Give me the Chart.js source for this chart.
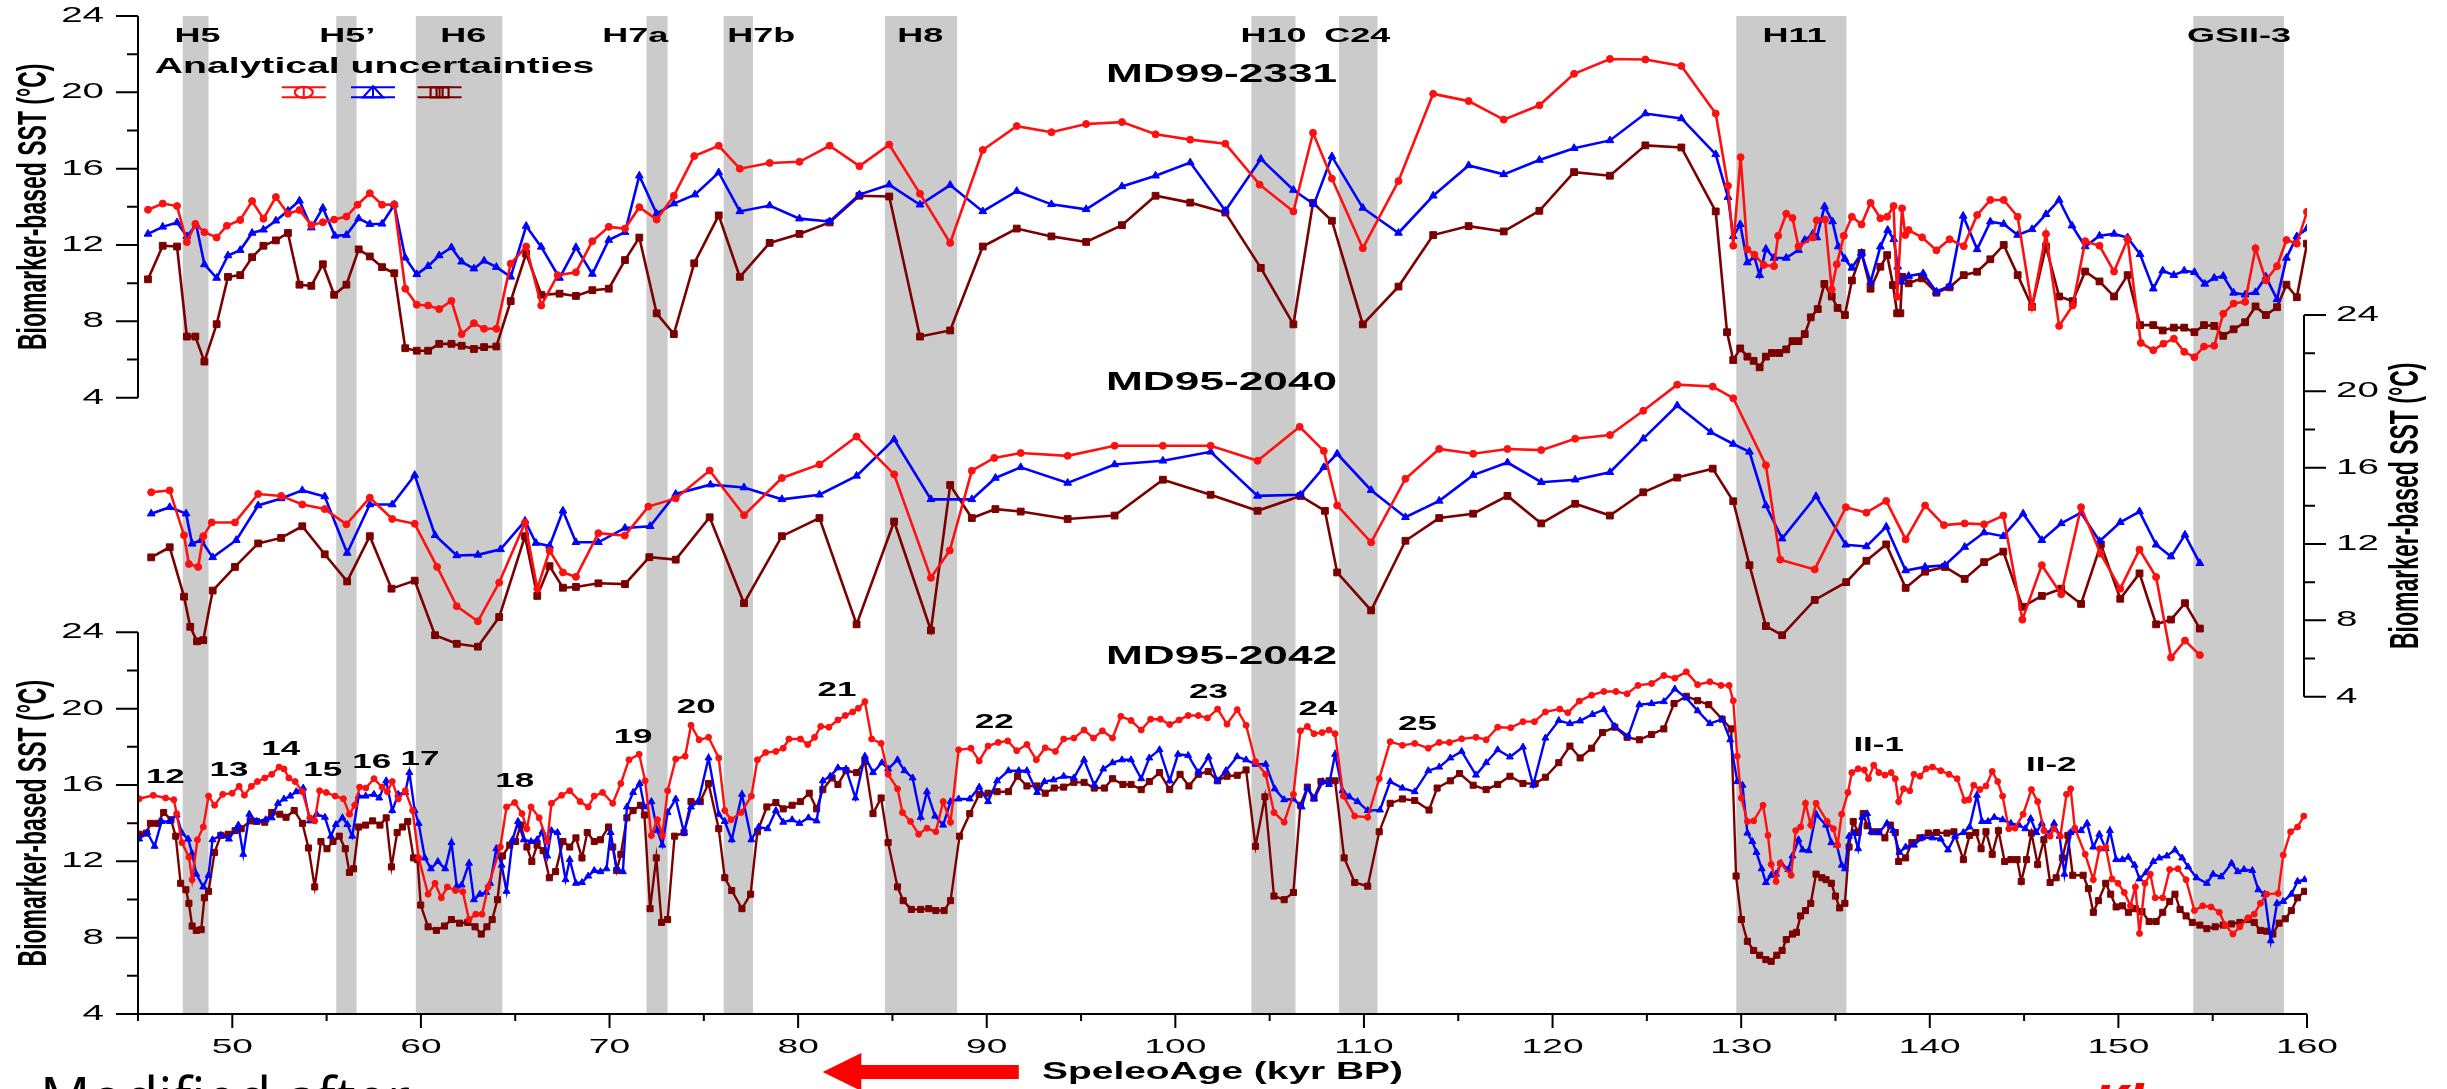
<!DOCTYPE html>
<html>
<head>
<meta charset="utf-8">
<script src="https://cdn.jsdelivr.net/npm/chart.js@4.4.1/dist/chart.umd.min.js"></script>
<style>
  html, body { margin: 0; padding: 0; background: #fff; }
  #wrap { width: 2447px; height: 1089px; }
</style>
</head>
<body>
<div id="wrap"><canvas id="sst" width="2447" height="1089"></canvas></div>
<script>
// Colours of the three SST records
const RED = '#ff1010';
const BLUE = '#0000ff';
const BROWN = '#7b0000';

// Age axis (kyr BP) and SST axes (°C)
const ageTicks = [45, 50, 55, 60, 65, 70, 75, 80, 85, 90, 95, 100, 105, 110, 115, 120, 125, 130, 135, 140, 145, 150, 155, 160];
const ageTickLabels = [50, 60, 70, 80, 90, 100, 110, 120, 130, 140, 150, 160];
const sstTicks = [4, 6, 8, 10, 12, 14, 16, 18, 20, 22, 24];
const sstTickLabels = [4, 8, 12, 16, 20, 24];

// Heinrich / cold events (shaded bands)
const eventNames = ['H5', 'H5\u2019', 'H6', 'H7a', 'H7b', 'H8', 'H10', 'C24', 'H11', 'GSII-3'];
const eventStart = [47.37, 55.51, 59.73, 71.96, 76.05, 84.60, 104.03, 108.68, 129.74, 153.97];
const eventEnd = [48.74, 56.59, 64.32, 73.08, 77.61, 88.43, 106.37, 110.72, 135.58, 158.78];
const eventLabelAge = [48.15, 56.09, 62.25, 71.37, 78.05, 86.48, 105.2, 109.65, 132.83, 156.4];

// Greenland interstadial numbers on the MD95-2042 record
const stageNames = ['12', '13', '14', '15', '16', '17', '18', '19', '20', '21', '22', '23', '24', '25', 'II-1', 'II-2'];
const stageAge = [46.45, 49.82, 52.57, 54.79, 57.39, 59.95, 64.97, 71.25, 74.60, 82.06, 90.40, 101.76, 107.56, 112.84, 137.29, 146.44];
const stageSst = [16.37, 16.78, 17.85, 16.75, 17.17, 17.36, 16.18, 18.50, 20.08, 20.97, 19.26, 20.84, 19.95, 19.19, 18.08, 17.03];

// MD99-2331 [age, SST]
const md99Red = [[45.53,13.85],[46.31,14.17],[47.07,14.04],[47.59,12.15],[48.04,13.10],[48.52,12.67],[49.17,12.39],[49.71,13.01],[50.42,13.31],[51.05,14.30],[51.65,13.38],[52.31,14.51],[52.95,13.64],[53.56,13.83],[54.19,13.04],[54.80,13.19],[55.40,13.33],[56.05,13.49],[56.64,14.11],[57.29,14.71],[57.94,14.11],[58.59,14.13],[59.17,9.71],[59.78,8.87],[60.38,8.83],[60.97,8.64],[61.62,9.07],[62.16,7.33],[62.81,7.90],[63.35,7.61],[64.00,7.61],[64.76,11.02],[65.58,11.92],[66.38,8.83],[67.25,10.42],[68.22,10.57],[69.09,12.20],[69.96,12.95],[70.82,12.86],[71.58,13.98],[72.50,13.33],[73.41,14.58],[74.49,16.66],[75.79,17.20],[76.91,16.00],[78.49,16.30],[80.07,16.36],[81.67,17.20],[83.25,16.13],[84.83,17.26],[86.46,14.69],[88.06,12.11],[89.79,16.98],[91.59,18.23],[93.43,17.91],[95.27,18.34],[97.17,18.44],[98.95,17.80],[100.79,17.52],[102.65,17.31],[104.47,15.16],[106.26,13.76],[107.30,17.88],[108.30,15.48],[109.94,11.83],[111.83,15.35],[113.67,19.92],[115.55,19.54],[117.41,18.57],[119.30,19.32],[121.14,20.97],[123.04,21.75],[124.92,21.72],[126.83,21.38],[128.65,18.89],[129.30,15.10],[129.58,11.96],[129.97,16.60],[130.33,11.77],[130.70,11.49],[131.20,10.95],[131.74,10.89],[131.96,12.48],[132.39,13.64],[132.72,13.42],[133.04,11.92],[133.80,12.39],[134.01,13.29],[134.45,13.33],[134.80,9.67],[135.07,10.99],[135.44,12.48],[135.87,13.48],[136.38,13.08],[136.86,14.21],[137.38,13.40],[137.74,13.48],[138.08,14.04],[138.27,9.29],[138.53,13.92],[138.70,12.52],[138.88,12.78],[139.59,12.40],[140.35,11.72],[141.05,12.30],[141.80,11.94],[142.51,13.57],[143.21,14.36],[143.92,14.36],[144.66,13.48],[145.42,8.76],[146.16,12.58],[146.86,7.76],[147.58,8.83],[148.24,12.20],[149.00,11.96],[149.77,10.61],[150.49,12.30],[151.19,6.87],[151.85,6.49],[152.39,6.83],[152.94,7.09],[153.49,6.40],[154.03,6.12],[154.54,6.68],[155.08,6.72],[155.56,8.40],[156.11,8.93],[156.72,9.02],[157.27,11.83],[157.82,10.14],[158.41,10.89],[158.91,12.26],[159.46,12.07],[160.00,13.74]];
const md99Blue = [[45.53,12.58],[46.31,12.95],[47.07,13.18],[47.59,12.45],[48.09,13.05],[48.52,10.98],[49.17,10.27],[49.77,11.45],[50.42,11.73],[51.05,12.63],[51.65,12.80],[52.31,13.27],[52.95,13.79],[53.56,14.32],[54.19,12.91],[54.80,13.94],[55.44,12.48],[56.05,12.52],[56.70,13.39],[57.29,13.09],[57.94,13.11],[58.59,14.11],[59.17,11.33],[59.78,10.46],[60.38,10.89],[60.97,11.45],[61.62,11.87],[62.16,11.12],[62.81,10.76],[63.35,11.17],[64.00,10.84],[64.76,10.33],[65.58,12.99],[66.38,11.90],[67.35,10.27],[68.22,11.88],[69.09,10.48],[69.96,12.26],[70.82,12.67],[71.58,15.63],[72.50,13.64],[73.41,14.17],[74.53,14.64],[75.79,15.80],[76.91,13.76],[78.49,14.07],[80.07,13.38],[81.67,13.23],[83.25,14.64],[84.83,15.16],[86.46,14.11],[88.06,15.14],[89.79,13.76],[91.59,14.82],[93.43,14.13],[95.27,13.87],[97.17,15.07],[98.95,15.63],[100.79,16.32],[102.65,13.79],[104.53,16.51],[106.26,14.88],[107.35,14.13],[108.30,16.64],[109.94,13.94],[111.83,12.63],[113.67,14.58],[115.55,16.17],[117.41,15.70],[119.30,16.45],[121.14,17.07],[123.04,17.48],[124.92,18.89],[126.83,18.63],[128.65,16.75],[129.30,14.51],[129.58,12.45],[129.95,13.08],[130.33,11.08],[130.70,11.36],[130.98,10.42],[131.31,11.79],[131.74,11.32],[132.39,11.32],[133.04,11.73],[133.37,12.26],[133.80,12.58],[134.01,12.39],[134.42,14.02],[134.84,13.23],[135.15,11.92],[135.50,11.27],[135.87,10.80],[136.38,11.58],[136.86,10.05],[137.38,11.91],[137.77,12.78],[138.09,12.30],[138.30,10.86],[138.48,10.07],[138.88,10.37],[139.65,10.51],[140.35,9.55],[141.05,9.85],[141.77,13.52],[142.51,11.77],[143.21,13.22],[143.92,13.10],[144.66,12.52],[145.42,12.82],[146.16,13.61],[146.86,14.36],[147.54,13.01],[148.24,11.92],[149.00,12.48],[149.77,12.58],[150.49,12.39],[151.15,11.51],[151.85,9.71],[152.35,10.65],[152.94,10.42],[153.49,10.65],[154.03,10.57],[154.58,9.96],[155.08,10.27],[155.56,10.37],[156.11,9.49],[156.72,9.39],[157.27,9.52],[157.82,10.33],[158.41,9.15],[158.91,11.32],[159.46,12.45],[160.00,12.86]];
const md99Brown = [[45.53,10.20],[46.31,11.96],[47.07,11.92],[47.59,7.20],[48.04,7.20],[48.52,5.89],[49.17,7.85],[49.77,10.33],[50.42,10.42],[51.05,11.36],[51.65,11.96],[52.31,12.24],[52.95,12.63],[53.56,9.92],[54.19,9.86],[54.80,10.99],[55.40,9.39],[56.05,9.92],[56.70,11.77],[57.29,11.40],[57.94,10.84],[58.59,10.52],[59.17,6.59],[59.78,6.46],[60.38,6.46],[60.97,6.82],[61.62,6.82],[62.16,6.72],[62.81,6.55],[63.35,6.65],[64.00,6.68],[64.76,9.06],[65.58,11.55],[66.38,9.39],[67.35,9.45],[68.22,9.33],[69.09,9.63],[69.96,9.71],[70.82,11.21],[71.58,12.39],[72.50,8.42],[73.41,7.33],[74.49,11.04],[75.79,13.55],[76.91,10.33],[78.49,12.11],[80.07,12.58],[81.67,13.18],[83.25,14.58],[84.83,14.54],[86.46,7.20],[88.06,7.52],[89.79,11.92],[91.59,12.86],[93.43,12.45],[95.27,12.16],[97.17,13.04],[98.95,14.58],[100.79,14.22],[102.65,13.70],[104.53,10.80],[106.26,7.84],[107.30,14.21],[108.30,13.27],[109.94,7.84],[111.83,9.82],[113.67,12.52],[115.55,12.99],[117.41,12.71],[119.30,13.79],[121.14,15.82],[123.04,15.63],[124.92,17.22],[126.83,17.11],[128.65,13.76],[129.25,7.43],[129.58,5.97],[129.95,6.58],[130.33,6.15],[130.66,5.93],[130.98,5.59],[131.31,6.15],[131.63,6.34],[132.02,6.34],[132.39,6.53],[132.72,6.96],[133.04,6.96],[133.37,7.33],[133.69,8.21],[134.06,8.64],[134.41,9.96],[134.80,9.30],[135.11,8.70],[135.50,8.33],[135.87,10.14],[136.38,11.58],[136.86,9.71],[137.38,10.86],[137.74,11.47],[138.05,9.90],[138.27,8.42],[138.44,8.42],[138.53,10.33],[138.88,9.99],[139.59,10.25],[140.35,9.50],[141.05,9.78],[141.80,10.42],[142.51,10.60],[143.21,11.25],[143.92,12.00],[144.66,10.42],[145.42,8.76],[146.16,11.92],[146.86,9.30],[147.58,9.06],[148.24,10.61],[149.00,10.09],[149.77,9.30],[150.49,10.42],[151.15,7.80],[151.85,7.80],[152.35,7.52],[152.94,7.67],[153.49,7.67],[154.03,7.43],[154.54,7.80],[155.08,7.76],[155.56,7.24],[156.11,7.58],[156.72,7.95],[157.27,8.78],[157.82,8.33],[158.41,8.74],[158.91,9.92],[159.46,9.26],[160.00,12.07]];

// MD95-2040 [age, SST]
const md2040Red = [[45.70,14.71],[46.68,14.81],[47.44,12.46],[47.70,10.95],[48.19,10.80],[48.46,12.41],[48.91,13.13],[50.14,13.13],[51.37,14.62],[52.59,14.52],[53.71,14.07],[54.90,13.83],[56.05,13.03],[57.29,14.43],[58.48,13.31],[59.67,13.06],[60.86,10.80],[61.90,8.74],[63.02,7.95],[64.15,9.98],[65.52,13.12],[66.17,9.66],[66.82,11.65],[67.53,10.51],[68.22,10.28],[69.41,12.57],[70.81,12.44],[72.06,13.96],[73.51,14.39],[75.31,15.85],[77.13,13.51],[79.14,15.46],[81.13,16.17],[83.10,17.63],[85.09,15.65],[87.04,10.23],[88.04,11.66],[89.21,15.84],[90.40,16.51],[91.80,16.77],[94.29,16.62],[96.78,17.15],[99.34,17.15],[101.87,17.15],[104.36,16.36],[106.59,18.14],[107.87,16.88],[108.58,14.02],[110.38,12.09],[112.20,15.42],[113.99,16.98],[115.79,16.73],[117.61,16.98],[119.40,16.92],[121.20,17.52],[123.04,17.71],[124.81,18.98],[126.61,20.35],[128.49,20.25],[129.58,19.64],[131.31,16.13],[132.07,11.18],[133.90,10.67],[135.55,13.93],[136.64,13.64],[137.69,14.26],[138.72,12.24],[139.75,14.02],[140.75,12.99],[141.85,13.08],[142.88,13.03],[143.90,13.49],[144.91,8.04],[145.94,10.89],[146.97,9.37],[148.02,13.93],[149.05,11.50],[150.10,9.66],[151.12,11.71],[152.00,10.27],[152.79,6.05],[153.53,6.94],[154.32,6.18]];
const md2040Blue = [[45.70,13.59],[46.68,13.93],[47.55,13.59],[47.87,12.01],[48.35,12.20],[48.96,11.30],[50.21,12.20],[51.37,14.02],[52.59,14.39],[53.71,14.81],[54.90,14.49],[56.09,11.53],[57.29,14.07],[58.48,14.07],[59.67,15.61],[60.75,12.46],[61.90,11.40],[63.02,11.43],[64.22,11.72],[65.52,13.21],[66.10,12.05],[66.82,11.90],[67.53,13.74],[68.22,12.09],[69.41,12.09],[70.82,12.84],[72.15,12.93],[73.51,14.62],[75.35,15.11],[77.13,14.96],[79.14,14.34],[81.13,14.58],[83.10,15.57],[85.09,17.48],[87.04,14.34],[89.21,14.34],[90.46,15.46],[91.80,16.02],[94.29,15.20],[96.78,16.17],[99.34,16.36],[101.87,16.83],[104.36,14.52],[106.63,14.58],[107.87,16.02],[108.58,16.73],[110.38,14.82],[112.20,13.40],[113.99,14.26],[115.79,15.61],[117.61,16.27],[119.40,15.24],[121.20,15.37],[123.04,15.76],[124.81,17.52],[126.61,19.26],[128.39,17.86],[129.58,17.24],[130.44,16.83],[131.31,14.02],[132.17,12.28],[133.97,14.50],[135.55,11.96],[136.64,11.87],[137.69,12.90],[138.72,10.61],[139.75,10.80],[140.80,10.89],[141.85,11.84],[142.88,12.60],[143.90,12.41],[144.95,13.59],[145.94,12.20],[146.97,13.08],[148.02,13.64],[149.00,12.15],[150.10,13.14],[151.12,13.70],[152.00,11.96],[152.79,11.34],[153.53,12.48],[154.32,10.99]];
const md2040Brown = [[45.70,11.30],[46.68,11.83],[47.44,9.24],[47.77,7.66],[48.13,6.90],[48.46,6.96],[48.96,9.56],[50.14,10.80],[51.37,12.03],[52.59,12.32],[53.71,12.93],[54.90,11.46],[56.09,10.04],[57.29,12.41],[58.44,9.66],[59.67,10.08],[60.75,7.22],[61.90,6.77],[63.02,6.62],[64.15,8.17],[65.52,12.41],[66.17,9.28],[66.82,10.84],[67.53,9.71],[68.22,9.75],[69.41,9.94],[70.82,9.90],[72.11,11.31],[73.51,11.18],[75.31,13.40],[77.13,8.90],[79.14,12.41],[81.13,13.36],[83.10,7.79],[85.09,13.18],[87.04,7.47],[88.06,15.09],[89.21,13.36],[90.46,13.83],[91.80,13.70],[94.29,13.31],[96.78,13.49],[99.34,15.37],[101.87,14.58],[104.36,13.74],[106.63,14.52],[107.93,13.74],[108.58,10.51],[110.38,8.52],[112.20,12.17],[113.99,13.36],[115.79,13.59],[117.61,14.52],[119.40,13.08],[121.20,14.11],[123.04,13.49],[124.81,14.71],[126.61,15.48],[128.49,15.95],[129.58,14.24],[130.44,10.89],[131.31,7.70],[132.17,7.22],[133.90,9.07],[135.57,10.00],[136.64,11.12],[137.69,11.98],[138.72,9.70],[139.75,10.55],[140.80,10.80],[141.85,10.17],[142.88,11.05],[143.90,11.60],[144.91,8.71],[145.94,9.28],[146.97,9.66],[148.02,8.86],[149.07,11.98],[150.10,9.13],[151.12,10.46],[152.00,7.79],[152.79,8.04],[153.53,8.90],[154.32,7.57]];

// MD95-2042 [age, SST]
const md2042Red = [[45.06,15.28],[45.81,15.46],[46.46,15.32],[46.90,15.23],[47.05,14.50],[47.33,12.98],[47.70,12.22],[47.87,11.04],[48.15,13.13],[48.46,13.80],[48.74,15.42],[49.06,14.94],[49.49,15.51],[49.99,15.57],[50.36,15.93],[50.64,15.47],[51.01,15.93],[51.33,16.18],[51.72,16.37],[52.09,16.56],[52.48,16.94],[52.74,16.84],[53.00,16.37],[53.33,16.18],[53.72,15.65],[54.11,14.28],[54.37,14.12],[54.63,15.70],[54.98,15.61],[55.45,15.42],[55.89,15.28],[56.21,14.47],[56.49,14.94],[56.75,15.89],[57.08,15.84],[57.51,16.33],[57.94,15.89],[58.22,15.65],[58.48,16.18],[58.80,15.27],[59.17,15.70],[59.56,14.66],[59.88,12.18],[60.38,10.28],[60.75,10.85],[61.08,10.09],[61.40,10.66],[61.83,10.47],[62.22,10.41],[62.55,8.95],[62.91,9.23],[63.24,9.23],[63.56,10.66],[64.21,12.75],[64.54,14.85],[64.97,15.08],[65.36,14.50],[65.62,13.71],[65.84,14.85],[66.27,14.28],[66.70,13.04],[66.92,15.04],[67.46,15.46],[67.89,15.70],[68.44,15.13],[68.87,14.85],[69.19,15.42],[69.63,15.61],[70.17,15.04],[70.60,16.08],[71.03,17.32],[71.57,17.61],[71.89,16.22],[72.22,13.36],[72.54,14.18],[72.80,13.36],[73.08,15.70],[73.51,17.36],[74.01,17.51],[74.32,19.13],[74.75,18.37],[75.25,18.50],[75.79,17.42],[76.11,14.66],[76.44,14.18],[76.98,14.56],[77.52,15.42],[77.84,17.32],[78.28,17.70],[78.82,17.76],[79.21,17.93],[79.51,18.41],[80.12,18.41],[80.51,18.12],[80.87,18.50],[81.20,19.07],[81.63,19.03],[82.11,19.41],[82.50,19.64],[82.89,19.83],[83.19,20.02],[83.54,20.37],[83.90,18.41],[84.40,18.18],[84.77,16.56],[85.27,15.80],[85.53,14.56],[85.96,14.09],[86.39,13.42],[86.83,13.74],[87.30,13.55],[87.69,15.13],[88.08,14.05],[88.51,17.85],[89.16,17.93],[89.60,17.26],[90.07,18.04],[90.61,18.23],[91.11,18.31],[91.59,17.80],[92.13,18.12],[92.63,17.32],[93.10,17.95],[93.64,17.76],[94.08,18.41],[94.62,18.46],[95.16,18.88],[95.66,18.46],[96.13,18.84],[96.67,18.46],[97.11,19.60],[97.65,19.38],[98.19,18.88],[98.69,19.45],[99.21,19.45],[99.70,19.17],[100.20,19.41],[100.68,19.64],[101.22,19.64],[101.70,19.51],[102.24,19.98],[102.74,19.19],[103.28,19.95],[103.75,19.13],[104.25,17.23],[104.79,16.56],[105.23,14.56],[105.77,14.05],[106.26,15.51],[106.63,18.84],[107.00,19.07],[107.35,18.69],[107.78,18.75],[108.15,18.88],[108.47,18.69],[108.91,15.42],[109.51,14.37],[110.20,14.31],[110.81,16.33],[111.39,18.27],[112.04,18.08],[112.69,18.18],[113.41,17.93],[113.99,18.23],[114.53,18.23],[115.18,18.42],[115.94,18.50],[116.48,18.37],[117.09,19.03],[117.78,19.00],[118.43,19.32],[119.04,19.32],[119.62,19.83],[120.38,19.98],[120.81,19.79],[121.42,20.40],[122.07,20.71],[122.72,20.90],[123.36,20.90],[123.95,20.78],[124.53,21.22],[125.25,21.32],[125.90,21.74],[126.48,21.60],[127.09,21.93],[127.69,21.26],[128.34,21.41],[128.93,21.22],[129.36,21.22],[129.58,20.42],[129.79,17.51],[130.01,15.32],[130.33,14.09],[130.66,14.12],[131.16,14.94],[131.42,13.36],[131.59,11.84],[131.85,10.95],[132.07,11.90],[132.65,11.27],[132.89,13.61],[133.15,13.80],[133.41,15.04],[133.69,13.90],[133.97,15.04],[134.56,14.09],[134.89,13.71],[135.11,12.85],[135.33,14.47],[135.66,15.61],[135.87,16.65],[136.20,16.85],[136.53,16.79],[136.75,16.33],[137.03,17.04],[137.30,16.65],[137.62,16.52],[137.95,16.65],[138.17,16.33],[138.35,15.13],[138.61,15.80],[138.94,15.70],[139.16,16.56],[139.48,16.46],[139.81,16.85],[140.14,16.94],[140.58,16.75],[141.02,16.56],[141.45,16.33],[141.85,15.19],[142.07,15.23],[142.33,15.99],[142.66,15.76],[142.98,15.95],[143.31,16.71],[143.60,16.18],[143.86,15.42],[144.19,13.71],[144.52,13.74],[144.95,14.47],[145.39,15.76],[145.72,15.13],[146.05,13.61],[146.38,13.32],[146.59,13.71],[146.92,13.32],[147.25,15.51],[147.47,15.80],[147.69,13.74],[148.24,12.37],[148.67,11.04],[149.00,12.66],[149.33,12.75],[149.66,11.08],[149.98,10.85],[150.31,10.37],[150.64,9.67],[150.90,10.66],[151.12,8.22],[151.41,10.85],[151.69,11.33],[151.95,10.09],[152.35,10.09],[152.72,11.57],[153.16,11.61],[153.59,11.04],[154.03,9.42],[154.47,9.67],[154.91,9.61],[155.35,9.33],[155.67,8.66],[156.07,8.19],[156.44,8.57],[156.88,9.04],[157.20,9.23],[157.53,9.80],[157.86,10.28],[158.47,10.32],[158.74,12.33],[159.13,13.55],[159.50,13.80],[159.83,14.37]];
const md2042Blue = [[45.06,13.17],[45.49,13.51],[45.88,12.79],[46.25,14.09],[46.68,14.09],[47.05,14.43],[47.33,13.48],[47.66,13.17],[47.87,12.41],[48.09,11.33],[48.46,10.66],[48.74,11.27],[48.95,13.13],[49.39,13.36],[49.82,13.17],[50.32,13.90],[50.58,12.37],[50.90,14.47],[51.29,14.09],[51.77,14.18],[52.09,14.28],[52.42,15.04],[52.74,15.27],[53.07,15.42],[53.39,15.65],[53.76,15.84],[54.11,14.12],[54.47,14.47],[54.91,14.31],[55.23,13.32],[55.49,13.93],[55.84,14.28],[56.10,13.93],[56.36,13.32],[56.70,15.42],[57.07,15.42],[57.51,15.51],[57.79,15.32],[58.16,16.22],[58.48,14.66],[58.80,15.51],[59.17,15.61],[59.39,16.65],[59.67,14.66],[59.88,13.99],[60.21,12.18],[60.53,11.61],[60.90,11.99],[61.29,11.61],[61.62,12.98],[61.90,10.70],[62.16,10.76],[62.55,11.90],[62.81,9.99],[63.13,10.28],[63.46,10.37],[63.67,10.85],[64.00,12.66],[64.28,11.80],[64.54,10.43],[64.86,13.13],[65.15,14.09],[65.45,13.13],[65.84,13.04],[66.16,13.13],[66.44,13.55],[66.70,12.28],[66.92,13.61],[67.24,13.51],[67.67,11.04],[67.89,12.09],[68.22,10.85],[68.54,10.89],[68.87,11.23],[69.19,11.52],[69.52,11.46],[69.84,11.61],[70.06,13.51],[70.38,11.61],[70.71,11.46],[70.92,14.85],[71.25,15.61],[71.60,16.08],[71.85,14.85],[72.22,15.13],[72.54,13.61],[72.80,12.85],[73.08,14.56],[73.51,15.27],[73.95,13.51],[74.32,14.85],[74.71,15.13],[75.25,17.42],[75.79,14.47],[76.11,14.09],[76.48,13.13],[77.02,15.51],[77.52,13.13],[77.91,13.80],[78.38,13.71],[78.82,14.66],[79.21,14.05],[79.68,14.18],[80.07,13.99],[80.55,14.28],[80.98,14.12],[81.31,16.22],[81.70,16.46],[82.11,16.90],[82.54,16.84],[83.04,15.32],[83.54,17.51],[83.97,16.65],[84.44,17.17],[84.77,16.84],[85.27,17.32],[85.64,16.75],[86.07,16.37],[86.50,14.31],[86.83,15.65],[87.26,14.37],[87.69,13.90],[88.08,15.13],[88.51,15.27],[89.10,15.27],[89.60,15.89],[90.07,15.13],[90.55,16.22],[91.15,16.75],[91.70,16.75],[92.13,16.75],[92.67,15.61],[93.06,16.18],[93.54,16.27],[94.08,16.46],[94.62,16.37],[95.16,17.32],[95.70,15.99],[96.18,16.84],[96.67,17.17],[97.17,17.32],[97.65,17.32],[98.19,16.33],[98.62,17.42],[99.16,17.85],[99.70,16.22],[100.14,17.61],[100.68,17.55],[101.22,16.65],[101.76,17.47],[102.22,16.22],[102.68,16.75],[103.28,17.49],[103.75,17.32],[104.25,17.09],[104.79,17.09],[105.27,15.80],[105.77,15.23],[106.26,15.27],[106.70,14.85],[107.00,15.84],[107.35,15.27],[107.82,16.18],[108.15,16.03],[108.47,17.61],[108.86,15.70],[109.23,15.38],[109.66,15.13],[110.20,14.66],[110.85,14.69],[111.39,16.18],[112.04,15.84],[112.69,15.65],[113.41,16.75],[113.99,16.94],[114.58,17.42],[115.18,17.76],[115.94,16.52],[116.48,17.17],[117.09,17.85],[117.74,17.47],[118.43,17.99],[118.97,15.99],[119.62,18.46],[120.33,19.38],[120.92,19.22],[121.46,19.36],[122.11,19.70],[122.72,19.95],[123.30,19.07],[124.01,18.56],[124.60,20.21],[125.25,20.27],[125.90,20.37],[126.48,21.03],[127.09,20.56],[127.69,19.89],[128.34,19.22],[128.99,19.45],[129.42,18.37],[129.79,16.18],[130.07,15.99],[130.33,13.48],[130.59,13.04],[130.81,12.47],[131.09,11.61],[131.31,10.89],[131.59,11.27],[131.85,11.33],[132.11,11.90],[132.50,11.57],[132.72,12.28],[133.04,13.13],[133.26,12.60],[133.58,12.56],[133.97,14.47],[134.50,13.90],[134.78,12.98],[135.07,12.85],[135.33,11.80],[135.50,11.61],[135.72,13.32],[135.98,13.48],[136.20,12.66],[136.42,14.31],[136.68,14.50],[136.90,13.55],[137.30,13.51],[137.73,13.99],[138.06,13.61],[138.39,12.47],[138.72,12.75],[139.16,12.85],[139.59,13.23],[140.14,13.23],[140.58,13.17],[140.97,12.60],[141.34,13.32],[141.78,13.51],[142.11,13.80],[142.50,15.46],[142.77,14.09],[143.09,14.09],[143.42,14.31],[143.86,14.18],[144.30,13.99],[144.73,13.90],[145.06,13.71],[145.35,14.24],[145.65,13.51],[145.94,13.99],[146.27,13.42],[146.59,13.99],[146.88,13.32],[147.14,11.33],[147.47,13.51],[148.02,13.61],[148.34,13.99],[148.67,12.75],[148.99,13.42],[149.33,12.66],[149.55,13.61],[149.88,12.09],[150.21,12.09],[150.53,12.22],[150.86,11.80],[151.12,11.08],[151.47,11.42],[151.85,11.99],[152.17,12.18],[152.57,12.28],[153.00,12.60],[153.38,12.18],[153.70,11.71],[154.14,11.14],[154.69,10.85],[155.02,11.33],[155.45,11.19],[156.00,11.90],[156.33,11.46],[156.66,11.57],[157.10,11.52],[157.42,10.51],[157.75,10.28],[158.08,7.84],[158.41,9.80],[158.74,9.90],[159.17,10.28],[159.50,10.95],[159.87,11.04]];
const md2042Brown = [[45.06,13.42],[45.45,13.48],[45.66,13.99],[46.03,13.99],[46.36,14.56],[46.75,14.18],[47.00,13.32],[47.26,10.85],[47.54,10.51],[47.70,9.80],[47.87,8.61],[48.09,8.38],[48.35,8.42],[48.52,10.09],[48.74,10.43],[49.06,12.47],[49.39,13.36],[49.78,13.42],[50.15,13.61],[50.47,13.71],[50.95,14.12],[51.29,14.09],[51.72,14.05],[52.09,14.56],[52.52,14.47],[52.85,14.31],[53.28,14.66],[53.72,13.99],[54.04,12.70],[54.37,10.66],[54.70,13.04],[55.02,12.66],[55.34,13.04],[55.67,13.32],[55.99,12.66],[56.21,11.42],[56.43,11.61],[56.70,13.80],[57.07,13.90],[57.44,14.12],[57.83,13.90],[58.16,14.28],[58.44,11.71],[58.74,13.51],[59.02,13.80],[59.30,14.09],[59.61,12.18],[59.82,12.09],[59.99,9.71],[60.38,8.57],[60.82,8.38],[61.25,8.61],[61.62,8.95],[62.05,8.76],[62.48,8.80],[62.87,8.57],[63.20,8.19],[63.50,8.57],[63.78,8.95],[64.06,9.99],[64.32,12.28],[64.71,12.85],[65.02,13.04],[65.29,13.90],[65.62,12.75],[65.88,11.99],[66.16,12.85],[66.48,12.56],[66.81,11.14],[67.14,11.46],[67.53,13.04],[67.89,12.75],[68.22,13.23],[68.54,12.18],[68.82,13.51],[69.19,13.04],[69.52,13.13],[69.95,13.80],[70.17,12.75],[70.38,11.52],[70.60,12.37],[70.92,14.28],[71.25,14.66],[71.64,14.94],[71.85,14.43],[72.15,9.52],[72.48,12.18],[72.76,8.80],[73.08,8.95],[73.45,13.32],[73.95,13.51],[74.32,15.13],[74.81,15.13],[75.25,16.08],[75.79,13.71],[76.11,11.14],[76.48,10.47],[77.02,9.52],[77.48,10.28],[77.84,13.55],[78.34,14.85],[78.82,15.08],[79.21,14.75],[79.68,14.94],[80.12,15.13],[80.59,15.57],[80.98,14.75],[81.31,15.76],[81.80,16.37],[82.11,16.03],[82.54,16.75],[83.10,16.65],[83.54,17.23],[83.97,14.50],[84.40,15.32],[84.77,12.98],[85.27,10.66],[85.57,9.94],[86.00,9.48],[86.50,9.48],[86.93,9.52],[87.30,9.42],[87.74,9.42],[88.08,9.94],[88.56,13.32],[89.10,14.50],[89.60,15.51],[90.07,15.57],[90.55,15.65],[91.15,15.65],[91.63,16.46],[92.13,15.95],[92.67,15.95],[93.10,15.57],[93.58,15.84],[94.08,15.89],[94.62,16.14],[95.16,16.14],[95.70,15.84],[96.24,15.84],[96.67,16.33],[97.22,16.03],[97.65,16.03],[98.19,15.76],[98.62,16.18],[99.16,16.65],[99.70,15.76],[100.25,16.56],[100.72,15.95],[101.22,16.56],[101.74,16.71],[102.24,16.22],[102.74,16.46],[103.28,16.51],[103.75,16.79],[104.25,12.79],[104.75,15.38],[105.23,10.18],[105.77,9.99],[106.26,10.37],[106.63,14.94],[107.00,15.89],[107.35,15.32],[107.72,16.18],[108.15,16.22],[108.47,16.22],[108.95,12.18],[109.51,10.89],[110.20,10.70],[110.81,13.55],[111.39,15.04],[112.04,15.27],[112.69,15.19],[113.45,14.69],[113.88,15.84],[114.58,16.22],[115.07,16.60],[115.79,15.99],[116.48,15.76],[117.09,16.03],[117.74,16.46],[118.43,16.08],[119.08,16.08],[119.62,16.41],[120.33,17.17],[120.92,18.04],[121.46,17.42],[122.07,17.93],[122.65,18.75],[123.30,19.03],[123.95,18.50],[124.60,18.37],[125.25,18.65],[125.90,18.94],[126.44,20.27],[127.09,20.65],[127.69,20.42],[128.28,20.21],[128.99,19.45],[129.47,18.94],[129.73,11.23],[130.01,8.95],[130.33,7.81],[130.66,7.33],[130.98,7.08],[131.31,6.85],[131.59,6.76],[131.89,7.08],[132.17,7.33],[132.39,7.90],[132.72,8.19],[132.93,8.28],[133.15,9.14],[133.41,9.42],[133.69,9.80],[133.97,11.33],[134.28,11.14],[134.50,11.04],[134.78,10.85],[135.00,10.18],[135.22,9.56],[135.50,9.80],[135.72,12.75],[135.94,14.09],[136.20,13.51],[136.47,14.50],[136.68,13.86],[136.97,13.55],[137.30,13.55],[137.62,13.23],[137.91,13.90],[138.17,13.51],[138.35,11.99],[138.72,12.18],[139.05,12.98],[139.48,13.23],[139.92,13.48],[140.36,13.51],[140.91,13.48],[141.28,13.55],[141.78,12.09],[142.11,13.36],[142.44,13.51],[142.72,12.66],[142.98,13.55],[143.31,12.37],[143.64,13.61],[143.97,11.99],[144.30,12.09],[144.63,12.09],[144.85,10.95],[145.13,12.09],[145.39,13.48],[145.72,11.84],[146.05,13.13],[146.38,10.89],[146.70,11.14],[147.03,12.18],[147.32,13.36],[147.58,11.27],[148.13,11.27],[148.41,10.57],[148.67,9.33],[148.94,9.94],[149.33,10.85],[149.59,10.28],[149.88,9.61],[150.21,9.67],[150.53,9.33],[150.90,9.52],[151.25,9.37],[151.63,8.85],[152.00,8.85],[152.35,9.33],[152.72,9.90],[153.00,10.28],[153.27,9.48],[153.59,9.14],[153.92,8.80],[154.32,8.66],[154.69,8.47],[155.13,8.57],[155.56,8.66],[156.00,8.72],[156.44,8.80],[156.88,8.95],[157.20,8.80],[157.53,8.38],[157.86,8.34],[158.19,8.19],[158.52,8.76],[158.85,8.99],[159.17,9.42],[159.50,10.09],[159.87,10.43]];

// Text in the original figure is stretched sideways
const WIDE = 1.75;
const FONT = '"Liberation Sans", Arial, Helvetica, sans-serif';

function wideText(ctx, txt, x, y, font, opts) {
  opts = opts || {};
  ctx.save();
  ctx.translate(x, y);
  ctx.scale(opts.sx || WIDE, 1);
  if (opts.rot) ctx.rotate(opts.rot);
  ctx.font = font;
  ctx.fillStyle = opts.color || '#000';
  ctx.textAlign = opts.align || 'center';
  ctx.textBaseline = opts.base || 'middle';
  ctx.fillText(txt, 0, 0);
  ctx.restore();
}

function series(label, pts, color, style, axis, r, w) {
  return {
    label: label,
    data: pts.map(p => ({ x: p[0], y: p[1] })),
    yAxisID: axis,
    borderColor: color,
    backgroundColor: color,
    pointBackgroundColor: color,
    pointBorderColor: color,
    pointBorderWidth: 1,
    pointStyle: style,
    pointRadius: r,
    borderWidth: w,
    tension: 0,
    fill: false
  };
}

// Shaded event bands, behind the records
const bandsPlugin = {
  id: 'bands',
  beforeDatasetsDraw(chart) {
    const { ctx, chartArea, scales } = chart;
    ctx.save();
    ctx.fillStyle = '#cbcbcb';
    eventStart.forEach((a, i) => {
      const x0 = scales.x.getPixelForValue(a);
      const x1 = scales.x.getPixelForValue(eventEnd[i]);
      ctx.fillRect(x0, chartArea.top, x1 - x0, chartArea.bottom - chartArea.top);
    });
    ctx.restore();
  }
};

// Axes, labels and annotations
const decorPlugin = {
  id: 'decor',
  afterDatasetsDraw(chart) {
    const { ctx, chartArea, scales } = chart;
    const x = scales.x, yTop = scales.yTop, yMid = scales.yMid, yBot = scales.yBot;
    const L = chartArea.left, R = chartArea.right, B = chartArea.bottom;
    ctx.save();
    ctx.strokeStyle = '#000';
    ctx.lineWidth = 2;

    // bottom age axis
    ctx.beginPath();
    ctx.moveTo(L, B); ctx.lineTo(R, B);
    ageTicks.forEach(v => {
      const px = x.getPixelForValue(v);
      ctx.moveTo(px, B);
      ctx.lineTo(px, B + (v % 10 === 0 ? 14 : 7));
    });
    ctx.stroke();
    ageTickLabels.forEach(v => {
      wideText(ctx, String(v), x.getPixelForValue(v), B + 33, '21px ' + FONT, { sx: 1.77 });
    });

    // the three SST axes (two on the left, one on the right)
    [[yTop, -1], [yBot, -1], [yMid, 1]].forEach(([s, dir]) => {
      const ax = dir < 0 ? L : R - 3;
      ctx.beginPath();
      ctx.moveTo(ax, s.getPixelForValue(4));
      ctx.lineTo(ax, s.getPixelForValue(24));
      sstTicks.forEach(v => {
        const py = s.getPixelForValue(v);
        ctx.moveTo(ax, py);
        ctx.lineTo(ax + dir * (v % 4 === 0 ? 22 : 11), py);
      });
      ctx.stroke();
      sstTickLabels.forEach(v => {
        const py = s.getPixelForValue(v);
        if (dir < 0) wideText(ctx, String(v), ax - 34, py, '22px ' + FONT, { align: 'right' });
        else wideText(ctx, String(v), ax + 32, py, '22px ' + FONT, { align: 'left' });
      });
      const tx = dir < 0 ? 35 : R + 100;
      wideText(ctx, 'Biomarker-based SST (\u00B0C)', tx, s.getPixelForValue(14), 'bold 23px ' + FONT, { rot: -Math.PI / 2 });
    });

    // axis title and arrow
    const ty = B + 58;
    wideText(ctx, 'SpeleoAge (kyr BP)', (L + R) / 2, ty, 'bold 24px ' + FONT, { sx: 1.62 });
    const tip = x.getPixelForValue(81.3), neck = x.getPixelForValue(83.35), tail = x.getPixelForValue(91.7);
    ctx.fillStyle = '#ff0000';
    ctx.beginPath();
    ctx.moveTo(tip, ty);
    ctx.lineTo(neck, ty - 19);
    ctx.lineTo(neck, ty - 7);
    ctx.lineTo(tail, ty - 7);
    ctx.lineTo(tail, ty + 7);
    ctx.lineTo(neck, ty + 7);
    ctx.lineTo(neck, ty + 19);
    ctx.closePath();
    ctx.fill();

    // event names
    eventNames.forEach((n, i) => {
      wideText(ctx, n, x.getPixelForValue(eventLabelAge[i]), yTop.getPixelForValue(22.95), 'bold 20px ' + FONT, { sx: 1.8 });
    });

    // record names
    const mid = x.getPixelForValue(102.45);
    wideText(ctx, 'MD99-2331', mid, yTop.getPixelForValue(20.91), 'bold 25px ' + FONT, { sx: 1.77 });
    wideText(ctx, 'MD95-2040', mid, yMid.getPixelForValue(20.44), 'bold 25px ' + FONT, { sx: 1.77 });
    wideText(ctx, 'MD95-2042', mid, yBot.getPixelForValue(22.69), 'bold 25px ' + FONT, { sx: 1.77 });

    // interstadial numbers
    stageNames.forEach((n, i) => {
      wideText(ctx, n, x.getPixelForValue(stageAge[i]), yBot.getPixelForValue(stageSst[i]), 'bold 20px ' + FONT);
    });

    // analytical uncertainty symbols
    wideText(ctx, 'Analytical uncertainties', x.getPixelForValue(57.54), yTop.getPixelForValue(21.33), 'bold 22px ' + FONT, { sx: 1.78 });
    const iy = yTop.getPixelForValue(20.0);
    [[53.79, RED, 'circle'], [57.46, BLUE, 'triangle'], [60.99, BROWN, 'rect']].forEach(([age, col, shape]) => {
      const cx = x.getPixelForValue(age);
      ctx.strokeStyle = col;
      ctx.lineWidth = 2;
      ctx.beginPath();
      ctx.moveTo(cx - 22, iy - 5); ctx.lineTo(cx + 22, iy - 5);
      ctx.moveTo(cx - 22, iy + 5); ctx.lineTo(cx + 22, iy + 5);
      ctx.moveTo(cx, iy - 6); ctx.lineTo(cx, iy + 6);
      ctx.stroke();
      ctx.lineWidth = 2.2;
      ctx.beginPath();
      if (shape === 'circle') {
        ctx.ellipse(cx, iy, 9, 5.5, 0, 0, Math.PI * 2);
      } else if (shape === 'triangle') {
        ctx.moveTo(cx, iy - 6); ctx.lineTo(cx + 10, iy + 5); ctx.lineTo(cx - 10, iy + 5); ctx.closePath();
      } else {
        ctx.rect(cx - 9, iy - 5, 18, 10);
        ctx.moveTo(cx - 3, iy - 5); ctx.lineTo(cx - 3, iy + 5);
        ctx.moveTo(cx + 3, iy - 5); ctx.lineTo(cx + 3, iy + 5);
      }
      ctx.stroke();
    });

    // slide text cut by the bottom edge
    ctx.fillStyle = '#000';
    ctx.font = '56px "Open Sans", "Liberation Sans", sans-serif';
    ctx.textAlign = 'left';
    ctx.textBaseline = 'alphabetic';
    ctx.fillText('Modified after', 40, 1118);
    ctx.fillStyle = '#ff0000';
    ctx.font = 'italic bold 56px "Open Sans", "Liberation Sans", sans-serif';
    ctx.fillText('Kl', 2092, 1125);
    ctx.restore();
  }
};

new Chart(document.getElementById('sst'), {
  type: 'line',
  data: {
    datasets: [
      series('MD99-2331 red', md99Red, RED, 'circle', 'yTop', 3.5, 2.6),
      series('MD99-2331 blue', md99Blue, BLUE, 'triangle', 'yTop', 4.5, 2.6),
      series('MD99-2331 brown', md99Brown, BROWN, 'rect', 'yTop', 4.8, 2.6),
      series('MD95-2040 red', md2040Red, RED, 'circle', 'yMid', 3.5, 2.6),
      series('MD95-2040 blue', md2040Blue, BLUE, 'triangle', 'yMid', 4.5, 2.6),
      series('MD95-2040 brown', md2040Brown, BROWN, 'rect', 'yMid', 4.8, 2.6),
      series('MD95-2042 red', md2042Red, RED, 'circle', 'yBot', 3, 2.4),
      series('MD95-2042 blue', md2042Blue, BLUE, 'triangle', 'yBot', 4, 2.4),
      series('MD95-2042 brown', md2042Brown, BROWN, 'rect', 'yBot', 4.3, 2.4)
    ]
  },
  options: {
    responsive: false,
    devicePixelRatio: 1,
    animation: false,
    events: [],
    layout: { padding: { left: 138, right: 140, top: 16, bottom: 75 } },
    plugins: {
      legend: { display: false },
      tooltip: { enabled: false }
    },
    scales: {
      x: { type: 'linear', min: 45, max: 160, display: false },
      yTop: { type: 'linear', min: -28.3, max: 24, display: false },
      yMid: { type: 'linear', min: -12.63, max: 39.67, display: false },
      yBot: { type: 'linear', min: 4, max: 56.3, display: false }
    }
  },
  plugins: [bandsPlugin, decorPlugin]
});
</script>
</body>
</html>
